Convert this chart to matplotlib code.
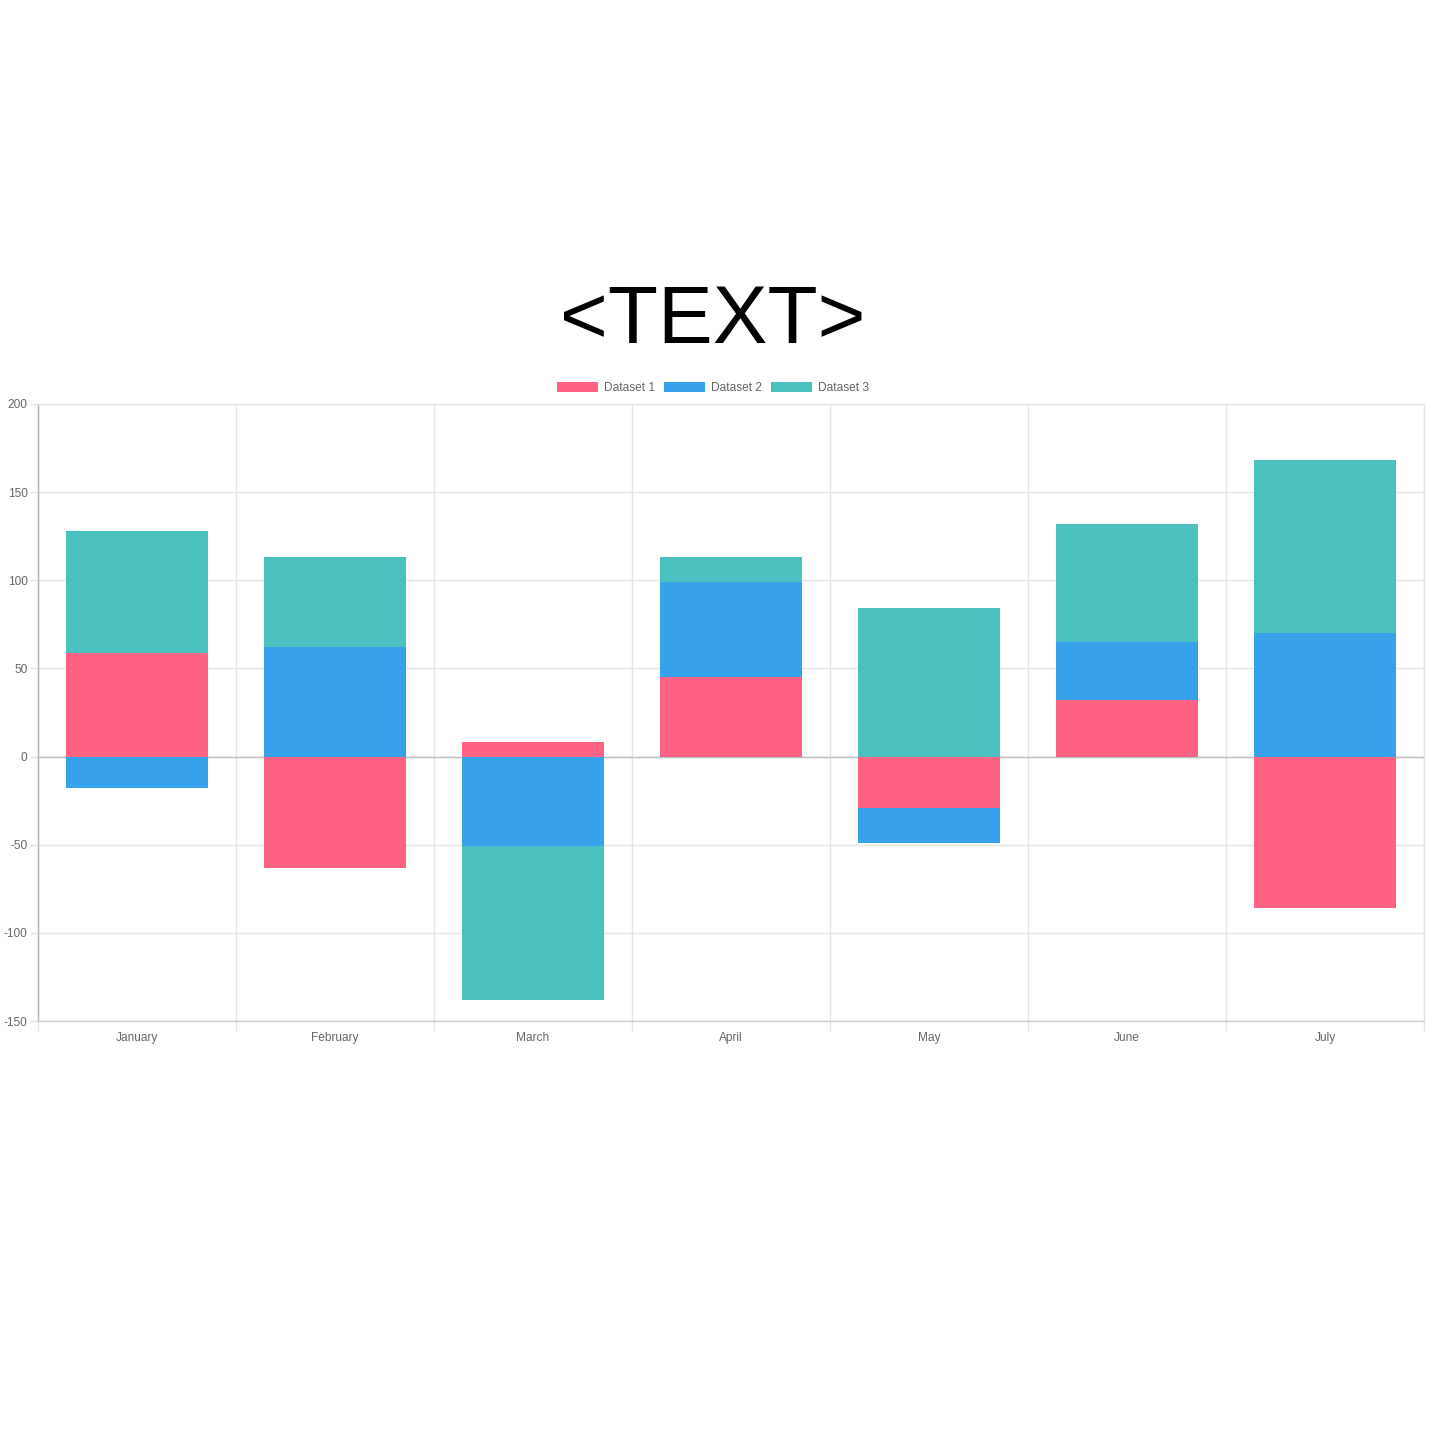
"""
Stacked bar chart with positive/negative stacks, three datasets per month.
"""

import numpy as np
import matplotlib
matplotlib.use("Agg")
import matplotlib.pyplot as plt

plt.rcParams["font.family"] = ["Liberation Sans", "DejaVu Sans"]

# --- data ---
months = ["January", "February", "March", "April", "May", "June", "July"]
dataset_1 = [59, -63, 8, 45, -29, 32, -86]
dataset_2 = [-18, 62, -51, 54, -20, 33, 70]
dataset_3 = [69, 51, -87, 14, 84, 67, 98]
series_names = ["Dataset 1", "Dataset 2", "Dataset 3"]
series_colors = ["#ff6384", "#36a2eb", "#4bc0c0"]
y_ticks = [-150, -100, -50, 0, 50, 100, 150, 200]

W = H = 1436
fig = plt.figure(figsize=(W / 100, H / 100), dpi=100)
ax = fig.add_axes([38 / W, 1 - 1021 / H, 1386 / W, 617 / H])

x = np.arange(len(months))
pos_base = np.zeros(len(months))
neg_base = np.zeros(len(months))
handles = []
for vals, name, color in zip([dataset_1, dataset_2, dataset_3], series_names, series_colors):
    vals = np.array(vals, dtype=float)
    # positives stack upward, negatives stack downward (Chart.js style)
    bottoms = np.where(vals >= 0, pos_base, neg_base)
    bars = ax.bar(x, vals, bottom=bottoms, width=0.72, color=color,
                  edgecolor="none", label=name, zorder=3)
    handles.append(bars)
    pos_base += np.where(vals >= 0, vals, 0)
    neg_base += np.where(vals < 0, vals, 0)

ax.set_xlim(-0.5, len(months) - 0.5)
ax.set_ylim(-150, 200)

grid_c = "#e5e5e5"
ax.set_yticks(y_ticks)
ax.set_yticklabels([str(t) for t in y_ticks])
ax.set_xticks(x)
ax.set_xticklabels(months)
ax.set_xticks(np.arange(-0.5, len(months)), minor=True)

ax.tick_params(axis="y", length=6, width=1, color=grid_c, pad=1.5,
               labelsize=8.6, labelcolor="#666666")
ax.tick_params(axis="x", which="major", length=0, pad=8,
               labelsize=8.6, labelcolor="#666666")
ax.tick_params(axis="x", which="minor", length=7, width=1, color=grid_c)

ax.grid(True, axis="y", color=grid_c, linewidth=1, zorder=0)
ax.grid(True, axis="x", which="minor", color=grid_c, linewidth=1, zorder=0)
ax.axhline(0, color="#bfbfbf", linewidth=1, zorder=2)

for side in ["top", "right"]:
    ax.spines[side].set_color(grid_c)
ax.spines["left"].set_color("#b5b5b5")
ax.spines["bottom"].set_color("#cfcfcf")
for sp in ax.spines.values():
    sp.set_linewidth(1)

fig.text(713 / W, 1 - 322 / H, "<TEXT>", ha="center", va="center",
         fontsize=59, color="black")

ax.legend(handles=handles, loc="center", bbox_to_anchor=(713 / W, 1 - 388 / H),
          bbox_transform=fig.transFigure, ncol=3, frameon=False,
          fontsize=8.6, labelcolor="#666666", handlelength=3.4,
          handleheight=1.0, handletextpad=0.5, columnspacing=0.8)

fig.savefig("out.png", dpi=100, facecolor="white")
